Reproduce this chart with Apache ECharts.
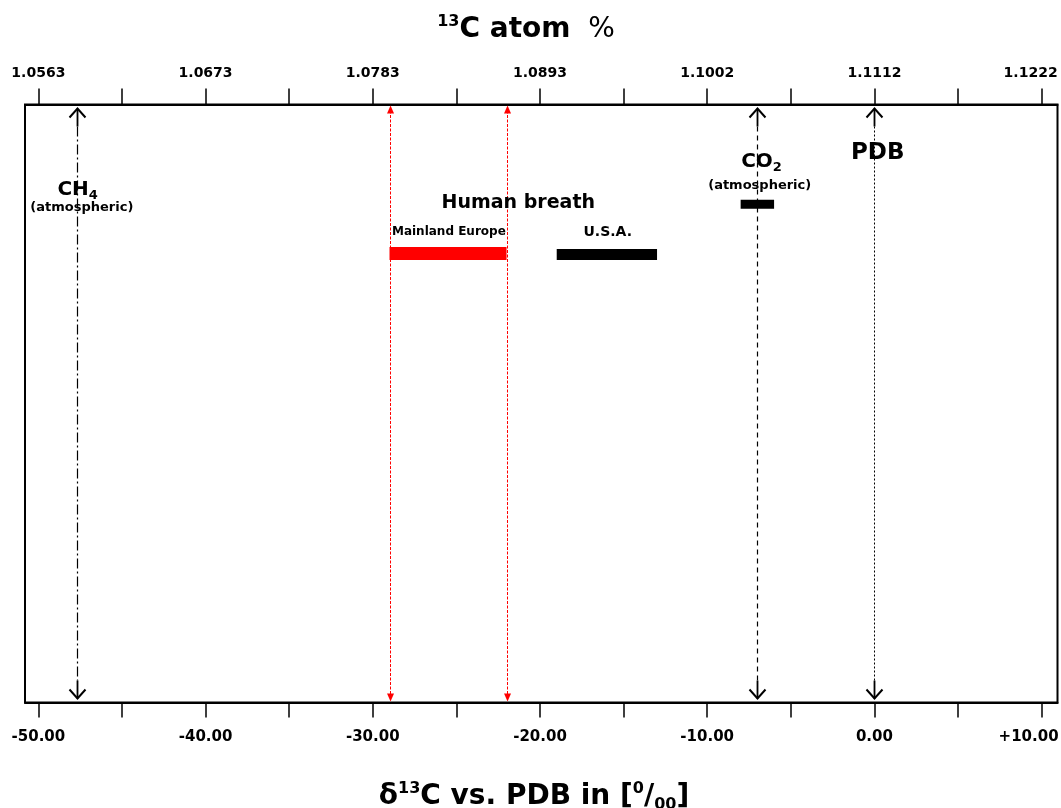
<!DOCTYPE html>
<html>
<head>
<meta charset="utf-8">
<script src="https://cdn.jsdelivr.net/npm/echarts@6/dist/echarts.min.js"></script>
<style>
  html, body { margin: 0; padding: 0; background: #fff; }
  #chart { width: 1061px; height: 808px; }
</style>
</head>
<body>
<div id="chart"></div>
<script>
// delta 13C vs PDB (per mil) ticks, and the 13C atom % values that sit on the same ticks
var deltaTicks = [-50, -45, -40, -35, -30, -25, -20, -15, -10, -5, 0, 5, 10];
var deltaLabels = [-50, -40, -30, -20, -10, 0, 10];
var atomLabels = ['1.0563', '1.0673', '1.0783', '1.0893', '1.1002', '1.1112', '1.1222'];

// vertical reference lines
var markerNames = ['CH4', 'Europe min', 'Europe max', 'CO2', 'PDB'];
var markerDelta = [-47.7, -29, -22, -7, 0];

// ranges (horizontal bars)
var rangeNames = ['Mainland Europe', 'U.S.A.', 'CO2 (atmospheric)'];
var rangeFrom = [-29, -19, -8];
var rangeTo = [-22, -13, -6];
var rangeLevel = [75.1, 74.9, 83.3];

// annotations
var noteTexts = ['{b|CH}{s|4}', '(atmospheric)', 'Human breath', 'Mainland Europe', 'U.S.A.', '{b|CO}{s|2}', '(atmospheric)', 'PDB'];
var noteDelta = [-47.65, -47.4, -21.3, -25.45, -15.95, -6.75, -6.86, 0.2];
var noteLevel = [85.7, 82.7, 83.5, 78.7, 78.7, 90.4, 86.5, 91.9];
var noteSize = [20, 13, 19, 12, 14, 20, 13, 23];

var FONT = '"DejaVu Sans", sans-serif';

var chart = echarts.init(document.getElementById('chart'));

// 'arrow' = black line with open arrowheads, 'red' = red dotted line with filled heads
var markerLook = [
  { kind: 'arrow', dash: [10, 3, 2, 3], width: 1.2 },
  { kind: 'red' },
  { kind: 'red' },
  { kind: 'arrow', dash: [5, 4], width: 1.2 },
  { kind: 'arrow', dash: [2, 2], width: 1 }
];

function renderMarker(params, api) {
  var v = api.value(0);
  var look = markerLook[api.value(1)];
  var t = api.coord([v, 100]);
  var b = api.coord([v, 0]);
  var x = Math.round(t[0]) + 0.5, y0 = t[1], y1 = b[1];
  if (look.kind === 'red') {
    return { type: 'group', children: [
      { type: 'line', shape: { x1: x, y1: y0 + 6, x2: x, y2: y1 - 6 },
        style: { stroke: '#ff0000', lineWidth: 1, lineDash: [3, 1.5] } },
      { type: 'polygon', shape: { points: [[x - 3.5, y0 + 9], [x, y0 + 1], [x + 3.5, y0 + 9]] },
        style: { fill: '#ff0000' } },
      { type: 'polygon', shape: { points: [[x - 3.5, y1 - 9], [x, y1 - 1], [x + 3.5, y1 - 9]] },
        style: { fill: '#ff0000' } }
    ] };
  }
  return { type: 'group', children: [
    { type: 'line', shape: { x1: x, y1: y0 + 4, x2: x, y2: y0 + 22 },
      style: { stroke: '#000', lineWidth: 1.8 } },
    { type: 'line', shape: { x1: x, y1: y1 - 4, x2: x, y2: y1 - 22 },
      style: { stroke: '#000', lineWidth: 1.8 } },
    { type: 'line', shape: { x1: x, y1: y0 + 22, x2: x, y2: y1 - 22 },
      style: { stroke: '#000', lineWidth: look.width, lineDash: look.dash } },
    { type: 'polyline', shape: { points: [[x - 8, y0 + 13], [x, y0 + 4], [x + 8, y0 + 13]] },
      style: { stroke: '#000', lineWidth: 2, fill: null } },
    { type: 'polyline', shape: { points: [[x - 8, y1 - 13], [x, y1 - 4], [x + 8, y1 - 13]] },
      style: { stroke: '#000', lineWidth: 2, fill: null } }
  ] };
}

var barColor = ['#ff0000', '#000000', '#000000'];
var barHeight = [13, 11, 9];

function renderRange(params, api) {
  var i = params.dataIndex;
  var a = api.coord([api.value(0), api.value(2)]);
  var b = api.coord([api.value(1), api.value(2)]);
  var h = barHeight[i];
  return { type: 'rect', shape: { x: a[0], y: a[1] - h / 2, width: b[0] - a[0], height: h },
    style: { fill: barColor[i] } };
}

function renderNote(params, api) {
  var i = params.dataIndex;
  var p = api.coord([api.value(0), api.value(1)]);
  var size = noteSize[i];
  return { type: 'text', x: p[0], y: p[1],
    style: {
      text: noteTexts[i], fill: '#000', fontSize: size, fontWeight: 'bold', fontFamily: FONT,
      align: 'center', verticalAlign: 'middle',
      rich: {
        b: { fontSize: size, fontWeight: 'bold', fontFamily: FONT, lineHeight: 24, fill: '#000' },
        s: { fontSize: 13, fontWeight: 'bold', fontFamily: FONT, lineHeight: 10, verticalAlign: 'bottom', fill: '#000' }
      }
    } };
}

var lastDelta = deltaLabels[deltaLabels.length - 1];

var option = {
  animation: false,
  backgroundColor: '#fff',
  grid: {
    left: 25, right: 3.5, top: 104.5, bottom: 105.5, show: true, borderColor: '#000', borderWidth: 2,
    containLabel: false, outerBoundsMode: 'none'
  },
  xAxis: [
    {
      type: 'value', position: 'bottom', min: -50.8, max: 10.95,
      splitLine: { show: false },
      axisLine: { show: true, lineStyle: { color: '#000', width: 2 } },
      axisTick: { show: true, customValues: deltaTicks, length: 15, lineStyle: { color: '#000', width: 1.5 } },
      axisLabel: {
        customValues: deltaLabels, margin: 27, color: '#000', fontSize: 15, fontWeight: 'bold', fontFamily: FONT,
        rich: { e: { padding: [0, 26, 0, 0], fontSize: 15, fontWeight: 'bold', fontFamily: FONT, color: '#000' } },
        formatter: function (v) {
          var s = (v > 0 ? '+' : '') + v.toFixed(2);
          return v === lastDelta ? '{e|' + s + '}' : s;
        }
      }
    },
    {
      type: 'value', position: 'top', min: -50.8, max: 10.95,
      splitLine: { show: false },
      axisLine: { show: true, lineStyle: { color: '#000', width: 2 } },
      axisTick: { show: true, customValues: deltaTicks, length: 16, lineStyle: { color: '#000', width: 1.5 } },
      axisLabel: {
        customValues: deltaLabels, margin: 24, color: '#000', fontSize: 14, fontWeight: 'bold', fontFamily: FONT,
        rich: { e: { padding: [0, 22, 0, 0], fontSize: 14, fontWeight: 'bold', fontFamily: FONT, color: '#000' } },
        formatter: function (v) {
          var s = atomLabels[deltaLabels.indexOf(v)];
          return v === lastDelta ? '{e|' + s + '}' : s;
        }
      }
    }
  ],
  yAxis: { type: 'value', min: 0, max: 100, show: false },
  graphic: [
    {
      type: 'text', x: 526, y: 30,
      style: {
        text: '{sup|13}{b|C atom }{p|%}', align: 'center', verticalAlign: 'middle',
        rich: {
          b: { fontSize: 28, fontWeight: 'bold', fontFamily: FONT, lineHeight: 32, fill: '#000' },
          p: { fontSize: 28, fontFamily: FONT, lineHeight: 32, fill: '#000', padding: [0, 0, 0, 8] },
          sup: { fontSize: 16, fontWeight: 'bold', fontFamily: FONT, lineHeight: 20, verticalAlign: 'top', fill: '#000' }
        }
      }
    },
    {
      type: 'text', x: 534, y: 797,
      style: {
        text: '{b|\u03b4}{sup|13}{b|C vs. PDB in [}{sup|0}{b|/}{sub|00}{b|]}', align: 'center', verticalAlign: 'middle',
        rich: {
          b: { fontSize: 28, fontWeight: 'bold', fontFamily: FONT, lineHeight: 32, fill: '#000' },
          sup: { fontSize: 16, fontWeight: 'bold', fontFamily: FONT, lineHeight: 20, verticalAlign: 'top', fill: '#000' },
          sub: { fontSize: 16, fontWeight: 'bold', fontFamily: FONT, lineHeight: 20, verticalAlign: 'bottom', fill: '#000' }
        }
      }
    }
  ],
  series: [
    {
      type: 'custom', name: 'markers', renderItem: renderMarker, silent: true,
      data: markerDelta.map(function (d, i) { return [d, i]; })
    },
    {
      type: 'custom', name: 'ranges', renderItem: renderRange, silent: true,
      data: rangeFrom.map(function (d, i) { return [d, rangeTo[i], rangeLevel[i]]; })
    },
    {
      type: 'custom', name: 'notes', renderItem: renderNote, silent: true,
      data: noteDelta.map(function (d, i) { return [d, noteLevel[i]]; })
    }
  ]
};

chart.setOption(option);
</script>
</body>
</html>
